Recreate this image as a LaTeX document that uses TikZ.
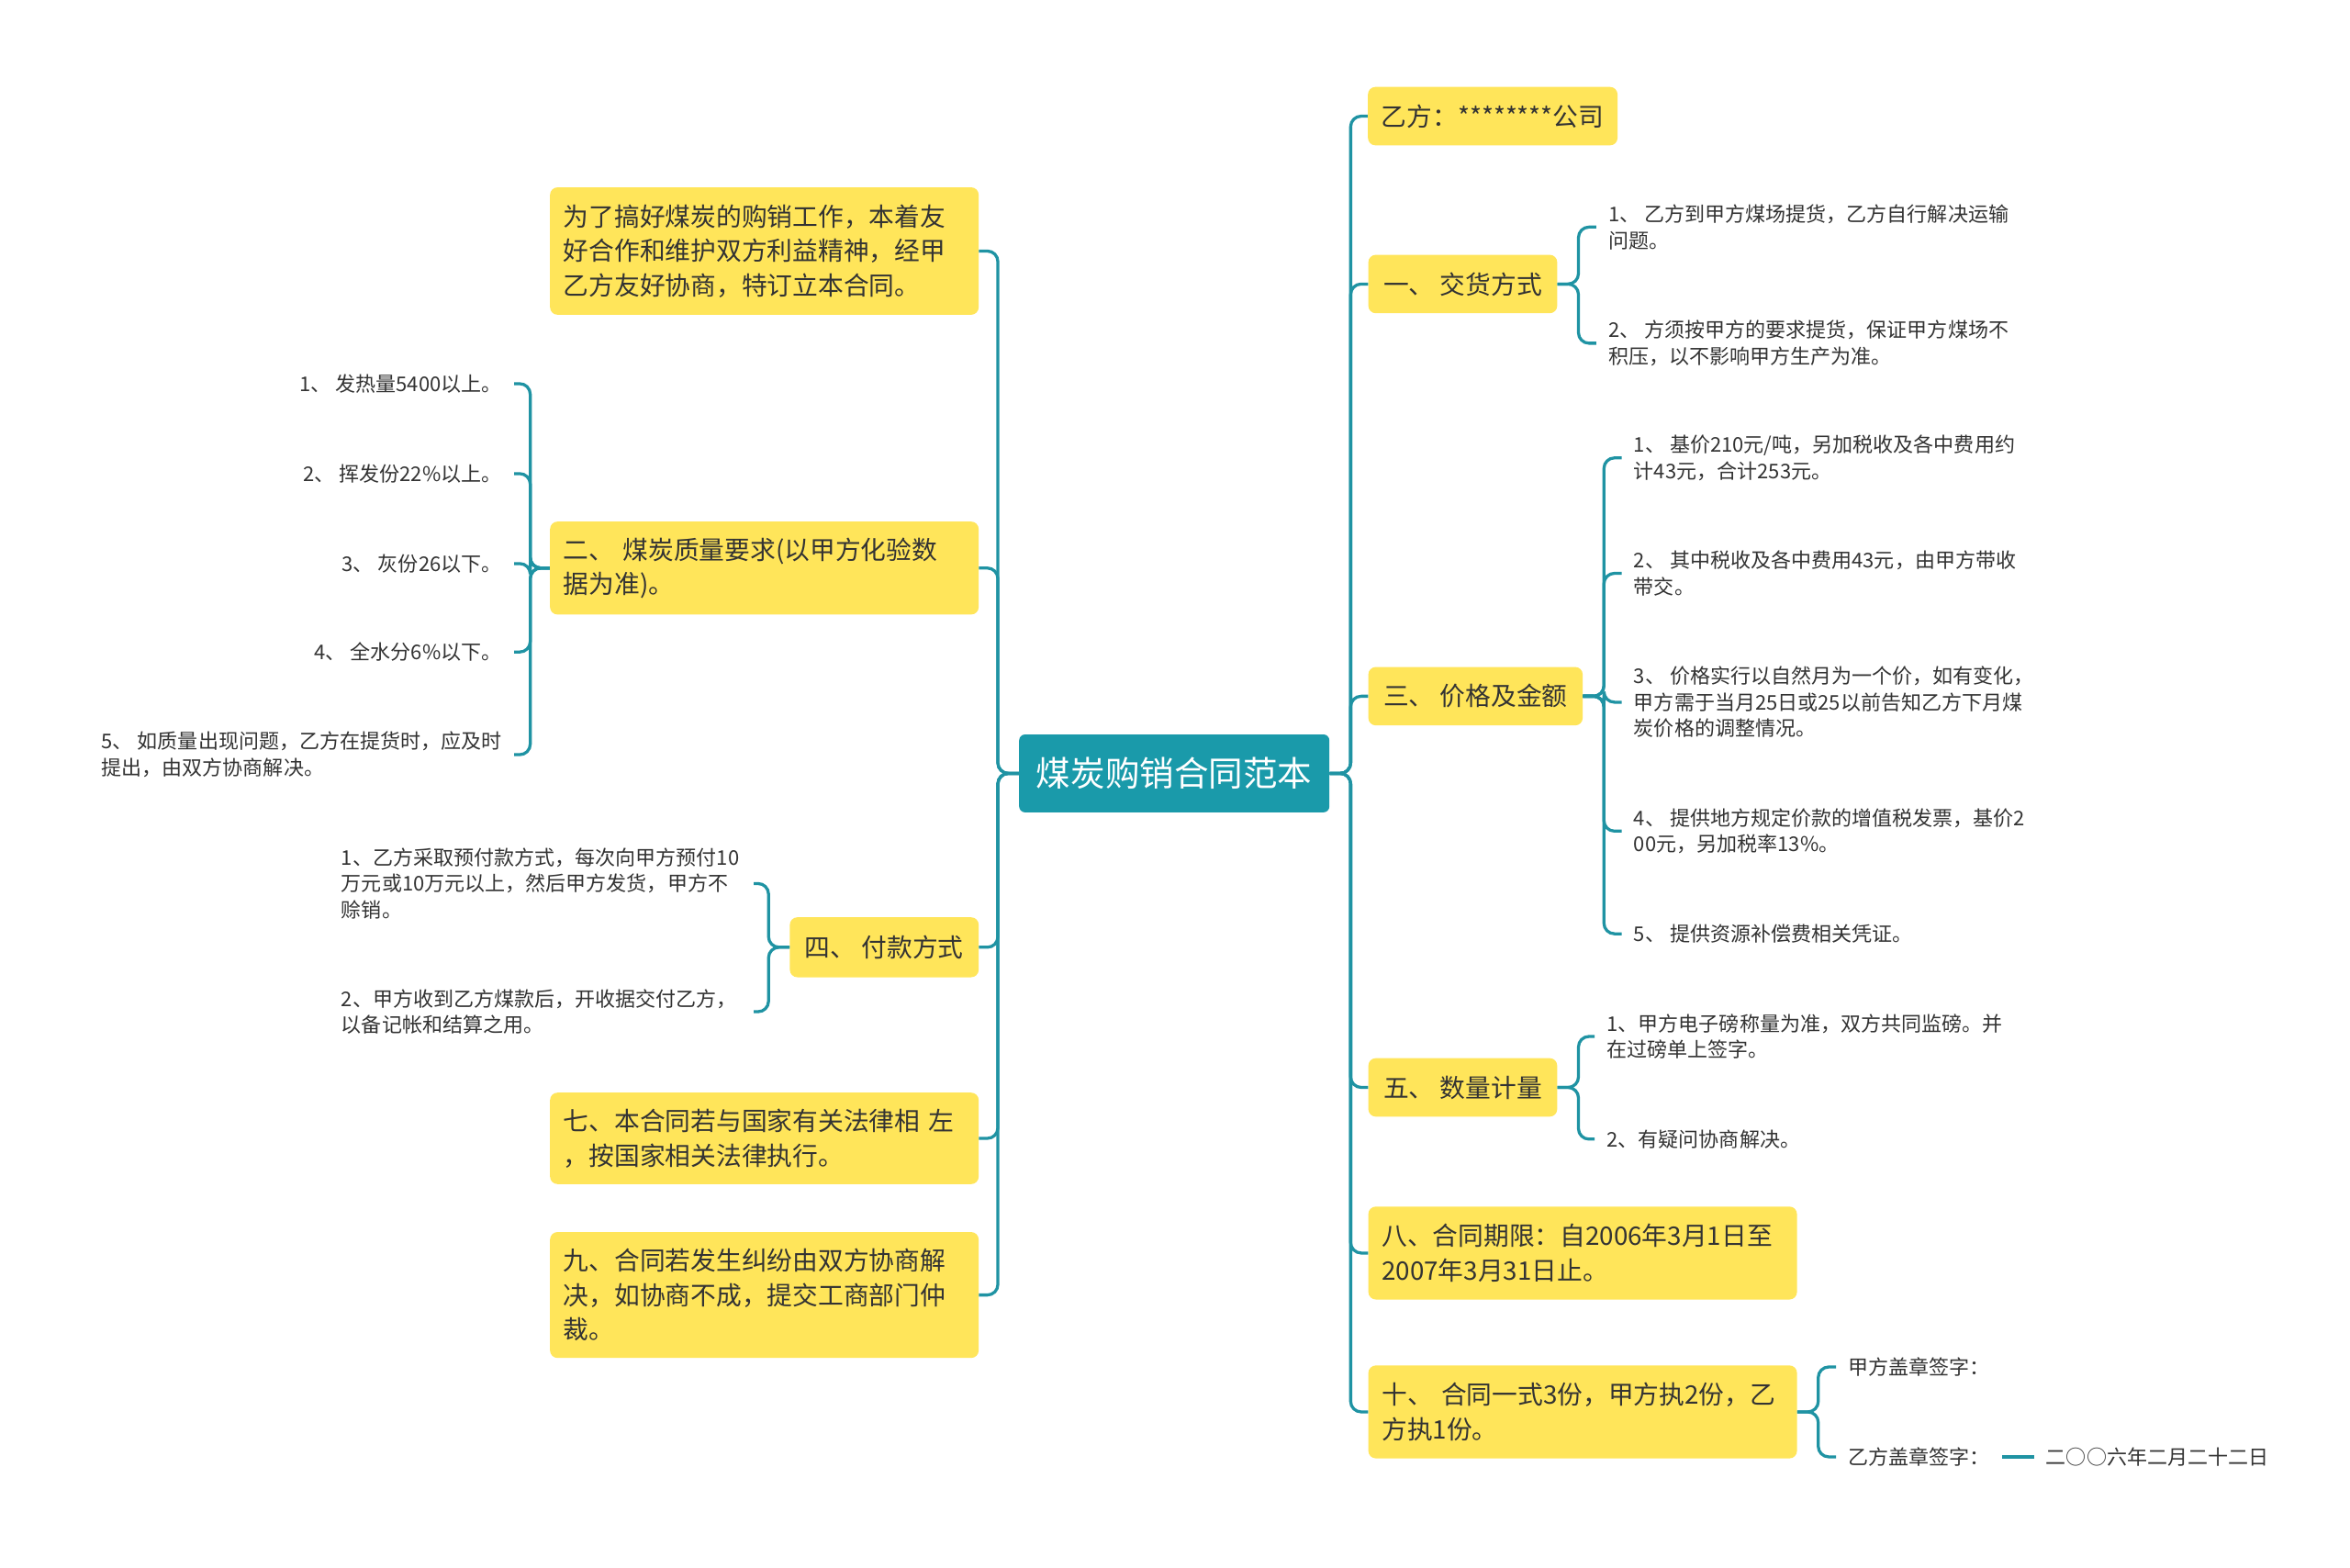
\documentclass[tikz,border=0pt]{standalone}
\usepackage{fontspec}
\setmainfont{Noto Sans CJK SC}
\definecolor{rootteal}{HTML}{1A9AAA}
\definecolor{linkteal}{HTML}{1F93A3}
\definecolor{boxyellow}{HTML}{FFE55A}
\definecolor{inkgray}{HTML}{333333}

\begin{document}
\begin{tikzpicture}[x=1pt,y=-1pt,
    root/.style={fill=rootteal,text=white,rounded corners=4pt,minimum width=207pt,minimum height=52pt,inner sep=0pt,font=\fontsize{23}{28}\selectfont},
    topic/.style={fill=boxyellow,text=inkgray,rounded corners=5pt,inner xsep=9pt,inner ysep=0pt,align=left,font=\fontsize{17}{23}\selectfont},
    leaf/.style={text=inkgray,inner xsep=8pt,inner ysep=0pt,align=left,font=\fontsize{13.5}{17.5}\selectfont},
    link/.style={draw=linkteal,line width=2pt,rounded corners=7pt}]
    \useasboundingbox[fill=white] (0,0) rectangle (1568,1046);

    \node[root] (coal) at (783.5,516) {煤炭购销合同范本};

    % left side
    \node[topic,text width=268pt,minimum height=85pt] (aim) at (510,167.5) {为了搞好煤炭的购销工作，本着友\\好合作和维护双方利益精神，经甲\\乙方友好协商，特订立本合同。};
    \node[topic,text width=268pt,minimum height=62pt] (quality) at (510,379) {二、 煤炭质量要求(以甲方化验数\\据为准)。};
    \node[topic,minimum width=126pt,minimum height=40pt] (pay) at (590,632) {四、 付款方式};
    \node[topic,text width=268pt,minimum height=61pt] (law) at (510,759.5) {七、本合同若与国家有关法律相 左\\，按国家相关法律执行。};
    \node[topic,text width=268pt,minimum height=84pt] (dispute) at (510,864) {九、合同若发生纠纷由双方协商解\\决，如协商不成，提交工商部门仲\\裁。};

    \node[leaf,anchor=east] (q1) at (343,256) {1、 发热量5400以上。};
    \node[leaf,anchor=east] (q2) at (343,316) {2、 挥发份22\%以上。};
    \node[leaf,anchor=east] (q3) at (343,376) {3、 灰份26以下。};
    \node[leaf,anchor=east] (q4) at (343,435) {4、 全水分6\%以下。};
    \node[leaf,anchor=east] (q5) at (343,503.5) {5、 如质量出现问题，乙方在提货时，应及时\\提出，由双方协商解决。};

    \node[leaf,anchor=east,text width=267pt] (p1) at (503,589.5) {1、乙方采取预付款方式，每次向甲方预付10\\万元或10万元以上，然后甲方发货，甲方不\\赊销。};
    \node[leaf,anchor=east,text width=267pt] (p2) at (503,675) {2、甲方收到乙方煤款后，开收据交付乙方，\\以备记帐和结算之用。};

    % right side
    \node[topic,minimum width=166pt,minimum height=39pt] (partyb) at (996,77.5) {乙方：********公司};
    \node[topic,minimum width=126pt,minimum height=39pt] (deliver) at (976,189.5) {一、 交货方式};
    \node[topic,minimum width=143pt,minimum height=39pt] (price) at (984.5,464.5) {三、 价格及金额};
    \node[topic,minimum width=126pt,minimum height=39pt] (amount) at (976,725.5) {五、 数量计量};
    \node[topic,text width=268pt,minimum height=62pt] (term) at (1056,836) {八、合同期限：自2006年3月1日至\\2007年3月31日止。};
    \node[topic,text width=268pt,minimum height=62pt] (copies) at (1056,942) {十、 合同一式3份，甲方执2份，乙\\方执1份。};

    \node[leaf,anchor=west] (d1) at (1065,151.5) {1、 乙方到甲方煤场提货，乙方自行解决运输\\问题。};
    \node[leaf,anchor=west] (d2) at (1065,229) {2、 方须按甲方的要求提货，保证甲方煤场不\\积压，以不影响甲方生产为准。};

    \node[leaf,anchor=west] (pr1) at (1082,305.5) {1、 基价210元/吨，另加税收及各中费用约\\计43元，合计253元。};
    \node[leaf,anchor=west] (pr2) at (1082,382.5) {2、 其中税收及各中费用43元，由甲方带收\\带交。};
    \node[leaf,anchor=west] (pr3) at (1082,468.5) {3、 价格实行以自然月为一个价，如有变化，\\甲方需于当月25日或25以前告知乙方下月煤\\炭价格的调整情况。};
    \node[leaf,anchor=west] (pr4) at (1082,554.5) {4、 提供地方规定价款的增值税发票，基价2\\00元，另加税率13\%。};
    \node[leaf,anchor=west] (pr5) at (1082,623) {5、 提供资源补偿费相关凭证。};

    \node[leaf,anchor=west] (a1) at (1064,691.5) {1、甲方电子磅称量为准，双方共同监磅。并\\在过磅单上签字。};
    \node[leaf,anchor=west] (a2) at (1064,760) {2、有疑问协商解决。};

    \node[leaf,anchor=west] (s1) at (1225,912) {甲方盖章签字：};
    \node[leaf,anchor=west] (s2) at (1225,972) {乙方盖章签字：};
    \node[leaf,anchor=west] (date) at (1357,972) {二○○六年二月二十二日};

    % connectors
    \draw[link] (coal.west) -- ++(-14,0) |- (aim.east);
    \draw[link] (coal.west) -- ++(-14,0) |- (quality.east);
    \draw[link] (coal.west) -- ++(-14,0) |- (pay.east);
    \draw[link] (coal.west) -- ++(-14,0) |- (law.east);
    \draw[link] (coal.west) -- ++(-14,0) |- (dispute.east);

    \draw[link] (quality.west) -- ++(-13,0) |- (q1.east);
    \draw[link] (quality.west) -- ++(-13,0) |- (q2.east);
    \draw[link] (quality.west) -- ++(-13,0) |- (q3.east);
    \draw[link] (quality.west) -- ++(-13,0) |- (q4.east);
    \draw[link] (quality.west) -- ++(-13,0) |- (q5.east);

    \draw[link] (pay.west) -- ++(-14,0) |- (p1.east);
    \draw[link] (pay.west) -- ++(-14,0) |- (p2.east);

    \draw[link] (coal.east) -- ++(14,0) |- (partyb.west);
    \draw[link] (coal.east) -- ++(14,0) |- (deliver.west);
    \draw[link] (coal.east) -- ++(14,0) |- (price.west);
    \draw[link] (coal.east) -- ++(14,0) |- (amount.west);
    \draw[link] (coal.east) -- ++(14,0) |- (term.west);
    \draw[link] (coal.east) -- ++(14,0) |- (copies.west);

    \draw[link] (deliver.east) -- ++(14,0) |- (d1.west);
    \draw[link] (deliver.east) -- ++(14,0) |- (d2.west);

    \draw[link] (price.east) -- ++(14,0) |- (pr1.west);
    \draw[link] (price.east) -- ++(14,0) |- (pr2.west);
    \draw[link] (price.east) -- ++(14,0) |- (pr3.west);
    \draw[link] (price.east) -- ++(14,0) |- (pr4.west);
    \draw[link] (price.east) -- ++(14,0) |- (pr5.west);

    \draw[link] (amount.east) -- ++(14,0) |- (a1.west);
    \draw[link] (amount.east) -- ++(14,0) |- (a2.west);

    \draw[link] (copies.east) -- ++(14,0) |- (s1.west);
    \draw[link] (copies.east) -- ++(14,0) |- (s2.west);
    \draw[link] (s2.east) -- (date.west);
\end{tikzpicture}
\end{document}
